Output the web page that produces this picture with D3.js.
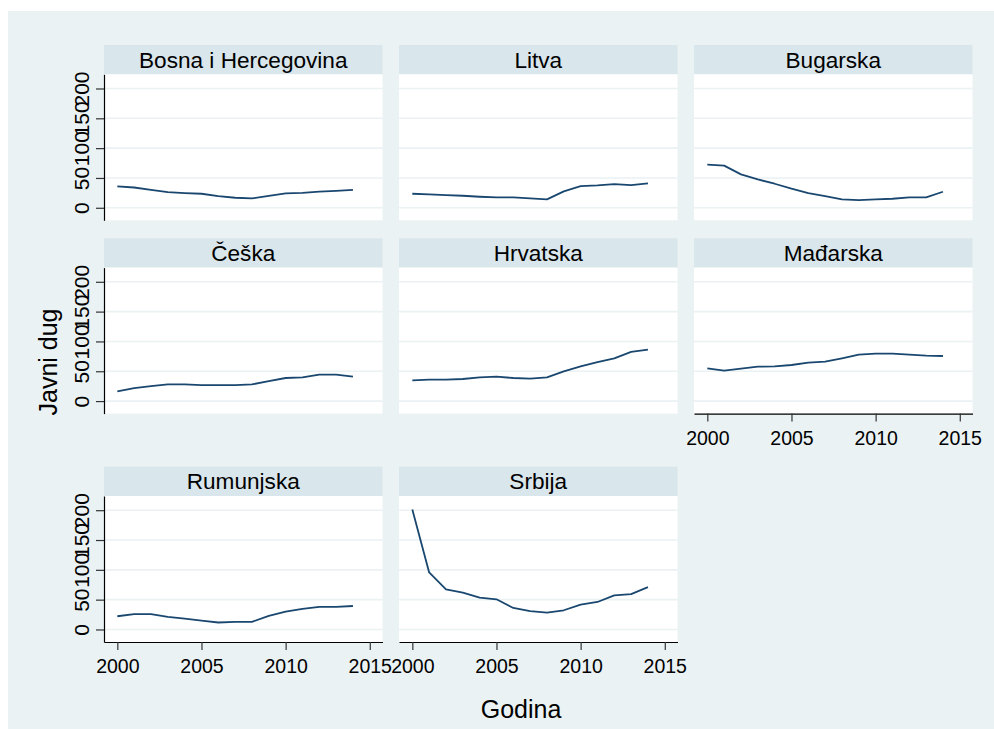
<!DOCTYPE html>
<html>
<head>
<meta charset="utf-8">
<script src="https://cdn.jsdelivr.net/npm/d3@7"></script>
<style>
  html, body { margin: 0; padding: 0; background: #ffffff; }
  svg { display: block; font-family: "Liberation Sans", Arial, sans-serif; }
</style>
</head>
<body>
<svg id="chart" width="994" height="729"></svg>
<script>
// ---- data ----
const years = [2000, 2001, 2002, 2003, 2004, 2005, 2006, 2007, 2008, 2009, 2010, 2011, 2012, 2013, 2014];
const countries = ["Bosna i Hercegovina", "Litva", "Bugarska", "Češka", "Hrvatska", "Mađarska", "Rumunjska", "Srbija"];
const bosnaIHercegovina = [35.8, 34, 30, 26.3, 24.6, 23.5, 19.6, 16.8, 15.7, 20, 24, 25, 27, 28.5, 30];
const litva = [23.5, 22.4, 21.3, 20.2, 18.5, 17.4, 17.4, 15.7, 14, 27.5, 36.4, 37.5, 39.8, 38, 40.8];
const bugarska = [72.3, 70.6, 56, 47.6, 40.3, 32, 24.6, 19.6, 14, 12.9, 14, 15.1, 17.4, 17.4, 26.9];
const ceska = [16.2, 21.8, 25.2, 28, 28, 26.9, 26.9, 26.9, 28, 33.6, 38.7, 39.8, 44.3, 44.3, 40.9];
const hrvatska = [34.7, 35.8, 35.8, 37, 39.8, 40.9, 38.7, 37.5, 39.8, 49.9, 58.2, 65.5, 71.7, 82.4, 86.3];
const madarska = [54.9, 51, 54.3, 57.7, 58.2, 60.5, 64.4, 66.1, 71.7, 77.8, 79.5, 79.5, 77.8, 76.2, 75.6];
const rumunjska = [22.2, 25.6, 25.6, 21.1, 18.3, 15, 11.7, 12.8, 12.8, 22.8, 30, 34.4, 37.8, 37.8, 39.4];
const srbija = [201, 95.6, 67.3, 61.7, 53.3, 50.6, 36.1, 30.6, 28.3, 32.2, 41.7, 46.1, 57.2, 59.4, 71.1];
const seriesValues = [bosnaIHercegovina, litva, bugarska, ceska, hrvatska, madarska, rumunjska, srbija];
const yTicks = [0, 50, 100, 150, 200];
const xTicks = [2000, 2005, 2010, 2015];
const yTitle = "Javni dug";
const xTitle = "Godina";

// ---- layout ----
const svg = d3.select("#chart");
const colLeft = [104, 399, 694];
const rowTop = [45, 238.3, 466.7];   // strip tops
const stripH = 29.3;
const plotW = 278.5;
const plotH = 146;
const lineColor = "#1a476f";
const bgColor = "#eaf2f3";
const stripColor = "#d9e6eb";

svg.append("rect").attr("x", 8).attr("y", 11).attr("width", 986).attr("height", 718).attr("fill", bgColor);

const x = d3.scaleLinear().domain([1999.208, 2015.756]).range([0, plotW]);
const y = d3.scaleLinear().domain([-21, 223.8]).range([plotH, 0]);

const line = d3.line().x(d => x(d[0])).y(d => y(d[1]));

countries.forEach((name, i) => {
  const row = Math.floor(i / 3), col = i % 3;
  const left = colLeft[col];
  const top = rowTop[row];
  const g = svg.append("g").attr("transform", `translate(${left},${top})`);

  // strip
  g.append("rect").attr("x", 0).attr("y", 0).attr("width", plotW).attr("height", stripH).attr("fill", stripColor);
  g.append("text").attr("x", plotW / 2).attr("y", stripH / 2 + 8)
    .attr("text-anchor", "middle").attr("font-size", 22.6).attr("fill", "#000").text(name);

  const p = g.append("g").attr("transform", `translate(0,${stripH})`);
  p.append("rect").attr("x", 0).attr("y", 0).attr("width", plotW).attr("height", plotH).attr("fill", "#ffffff");

  // grid
  p.selectAll("line.grid").data(yTicks).enter().append("line")
    .attr("x1", 0).attr("x2", plotW)
    .attr("y1", d => y(d)).attr("y2", d => y(d))
    .attr("stroke", bgColor).attr("stroke-width", 1.6);

  // data line
  const pts = years.map((yr, k) => [yr, seriesValues[i][k]]);
  p.append("path").datum(pts).attr("d", line)
    .attr("fill", "none").attr("stroke", lineColor).attr("stroke-width", 1.8)
    .attr("stroke-linejoin", "round");

  // y axis on first column
  if (col === 0) {
    const ya = p.append("g").call(d3.axisLeft(y).tickValues(yTicks).tickSize(8).tickSizeOuter(0));
    ya.select(".domain").attr("stroke", "#000").attr("stroke-width", 1.2);
    ya.selectAll(".tick line").attr("stroke", "#333").attr("stroke-width", 1.2);
    ya.selectAll(".tick text")
      .attr("x", null).attr("dy", null)
      .attr("transform", "translate(-15.5,0) rotate(-90)")
      .attr("text-anchor", "middle")
      .attr("font-size", 21).attr("fill", "#000")
      .attr("font-family", "Liberation Sans, Arial, sans-serif");
  }

  // x axis on last panel of each column
  if (i >= 5) {
    const xa = p.append("g").attr("transform", `translate(0,${plotH})`)
      .call(d3.axisBottom(x).tickValues(xTicks).tickFormat(d3.format("d")).tickSize(8).tickSizeOuter(0));
    xa.select(".domain").attr("stroke", "#000").attr("stroke-width", 1.2);
    xa.selectAll(".tick line").attr("stroke", "#333").attr("stroke-width", 1.2);
    xa.selectAll(".tick text")
      .attr("y", 31).attr("dy", null)
      .attr("font-size", 19.5).attr("fill", "#000")
      .attr("font-family", "Liberation Sans, Arial, sans-serif");
  }
});

// axis titles
svg.append("text").attr("x", 521).attr("y", 718).attr("text-anchor", "middle")
  .attr("font-size", 25).attr("fill", "#000").text(xTitle);
svg.append("text").attr("transform", "translate(57,362) rotate(-90)").attr("text-anchor", "middle")
  .attr("font-size", 25).attr("fill", "#000").text(yTitle);
</script>
</body>
</html>
